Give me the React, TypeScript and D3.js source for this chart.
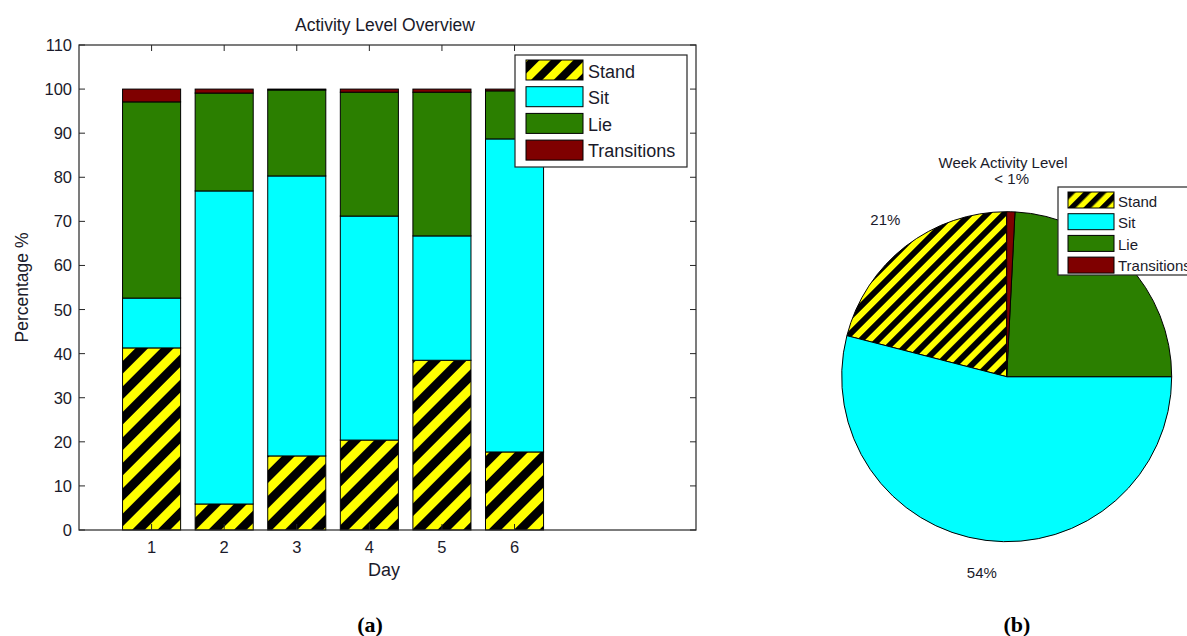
import React from "react";
import * as d3 from "d3";

const days = [1, 2, 3, 4, 5, 6];
const categories = ["Stand", "Sit", "Lie", "Transitions"];
const standVals = [41.3, 5.9, 16.8, 20.4, 38.5, 17.7];
const sitVals = [11.3, 71.0, 63.5, 50.8, 28.2, 71.0];
const lieVals = [44.5, 22.2, 19.5, 28.1, 32.6, 10.9];
const transVals = [2.9, 0.9, 0.2, 0.7, 0.7, 0.4];
const yTicks = [0, 10, 20, 30, 40, 50, 60, 70, 80, 90, 100, 110];
const pieVals = [21, 54, 24.2, 0.8];
// the Lie label is hidden behind the legend in the original figure
const pieLabels = ["21%", "54%", "", "< 1%"];

const fills = ["url(#hatchBar)", "#00FFFF", "#2B7F00", "#7F0000"];
const legendFillsA = ["url(#hatchLegA)", "#00FFFF", "#2B7F00", "#7F0000"];
const pieFills = ["url(#hatchPie)", "#00FFFF", "#2B7F00", "#7F0000"];
const legendFillsB = ["url(#hatchLegB)", "#00FFFF", "#2B7F00", "#7F0000"];

const FONT = "'Liberation Sans', Arial, sans-serif";
const TXT = "#1a1a2a";

function Hatch({ id, w }: { id: string; w: number }) {
  return (
    <pattern id={id} patternUnits="userSpaceOnUse" width={w} height={w} patternTransform="rotate(45)">
      <rect x={0} y={0} width={w} height={w} fill="#FFFF00" />
      <rect x={0} y={0} width={w / 2} height={w} fill="#000" />
    </pattern>
  );
}

export default function App() {
  const W = 1187, H = 636;
  const x = d3.scaleLinear().domain([0, 8.5]).range([79, 696]);
  const y = d3.scaleLinear().domain([0, 110]).range([530, 45]);
  const barW = x(0.8) - x(0);
  const table = days.map((d, i) => ({ day: d, Stand: standVals[i], Sit: sitVals[i], Lie: lieVals[i], Transitions: transVals[i] }));
  const stacked = d3.stack<any>().keys(categories)(table);

  const cx = 1006.7, cy = 376.7, R = 165;
  const pie = d3.pie<number>().sort(null).startAngle(0).endAngle(-2 * Math.PI)(pieVals);
  const arc = d3.arc<any>().innerRadius(0).outerRadius(R);
  const labelArc = d3.arc<any>().innerRadius(R * 1.2).outerRadius(R * 1.2);

  const legA = { x: 515, y: 55, w: 172, h: 112 };
  const legB = { x: 1058, y: 187, w: 140, h: 88 };

  return (
    <svg width={W} height={H} style={{ position: "absolute", left: 0, top: 0, background: "#fff" }}>
      <defs>
        <Hatch id="hatchBar" w={18} />
        <Hatch id="hatchLegA" w={16} />
        <Hatch id="hatchPie" w={12} />
        <Hatch id="hatchLegB" w={11} />
      </defs>
      <rect x={0} y={0} width={W} height={H} fill="#fff" />

      {/* Bar chart */}
      <text x={385} y={30.5} textAnchor="middle" fontFamily={FONT} fontSize={17.5} fill={TXT}>Activity Level Overview</text>
      {stacked.map((s, si) => (
        <g key={si}>
          {s.map((d, i) => (
            <rect key={i} x={x(days[i]) - barW / 2} y={y(d[1])} width={barW} height={y(d[0]) - y(d[1])}
              fill={fills[si]} stroke="#000" strokeWidth={1} />
          ))}
        </g>
      ))}
      <rect x={x(0)} y={y(110)} width={x(8.5) - x(0)} height={y(0) - y(110)} fill="none" stroke="#262626" strokeWidth={1.2} />
      {yTicks.map((t) => (
        <g key={t}>
          <line x1={x(0)} x2={x(0) + 6} y1={y(t)} y2={y(t)} stroke="#262626" />
          <line x1={x(8.5)} x2={x(8.5) - 6} y1={y(t)} y2={y(t)} stroke="#262626" />
          <text x={72} y={y(t) + 6} textAnchor="end" fontFamily={FONT} fontSize={16.5} fill={TXT}>{t}</text>
        </g>
      ))}
      {days.map((d) => (
        <g key={d}>
          <line x1={x(d)} x2={x(d)} y1={y(0)} y2={y(0) - 6} stroke="#262626" />
          <line x1={x(d)} x2={x(d)} y1={y(110)} y2={y(110) + 6} stroke="#262626" />
          <text x={x(d)} y={553} textAnchor="middle" fontFamily={FONT} fontSize={16.5} fill={TXT}>{d}</text>
        </g>
      ))}
      <text x={384} y={576} textAnchor="middle" fontFamily={FONT} fontSize={18} fill={TXT}>Day</text>
      <text transform={`translate(28,287.5) rotate(-90)`} textAnchor="middle" fontFamily={FONT} fontSize={17.5} fill={TXT}>Percentage %</text>

      <rect x={legA.x} y={legA.y} width={legA.w} height={legA.h} fill="#fff" stroke="#262626" strokeWidth={1.2} />
      {categories.map((c, i) => (
        <g key={c}>
          <rect x={526} y={60 + i * 26.7} width={57} height={20} fill={legendFillsA[i]} stroke="#000" strokeWidth={1} />
          <text x={588} y={78 + i * 26.4} fontFamily={FONT} fontSize={18} fill={TXT}>{c}</text>
        </g>
      ))}

      {/* Pie chart */}
      <text x={1003} y={168} textAnchor="middle" fontFamily={FONT} fontSize={15} fill={TXT}>Week Activity Level</text>
      <g transform={`translate(${cx},${cy})`}>
        {pie.map((p, i) => (
          <path key={i} d={arc(p) as string} fill={pieFills[i]} stroke="#000" strokeWidth={1} />
        ))}
        {pie.map((p, i) => {
          if (!pieLabels[i]) return null;
          const [lx, ly] = labelArc.centroid(p);
          return (
            <text key={"l" + i} x={lx} y={ly + 5} textAnchor="middle" fontFamily={FONT} fontSize={15} fill={TXT}>{pieLabels[i]}</text>
          );
        })}
      </g>
      <rect x={legB.x} y={legB.y} width={legB.w} height={legB.h} fill="#fff" stroke="#262626" strokeWidth={1.2} />
      {categories.map((c, i) => (
        <g key={"b" + c}>
          <rect x={1068} y={192 + i * 21.7} width={46} height={16} fill={legendFillsB[i]} stroke="#000" strokeWidth={1} />
          <text x={1118} y={206.5 + i * 21.5} fontFamily={FONT} fontSize={15} fill={TXT}>{c}</text>
        </g>
      ))}

      {/* Subfigure captions */}
      <text x={370} y={632} textAnchor="middle" fontFamily="'Liberation Serif', 'Times New Roman', serif" fontWeight="bold" fontSize={22} fill="#000">(a)</text>
      <text x={1017} y={632} textAnchor="middle" fontFamily="'Liberation Serif', 'Times New Roman', serif" fontWeight="bold" fontSize={22} fill="#000">(b)</text>
    </svg>
  );
}
